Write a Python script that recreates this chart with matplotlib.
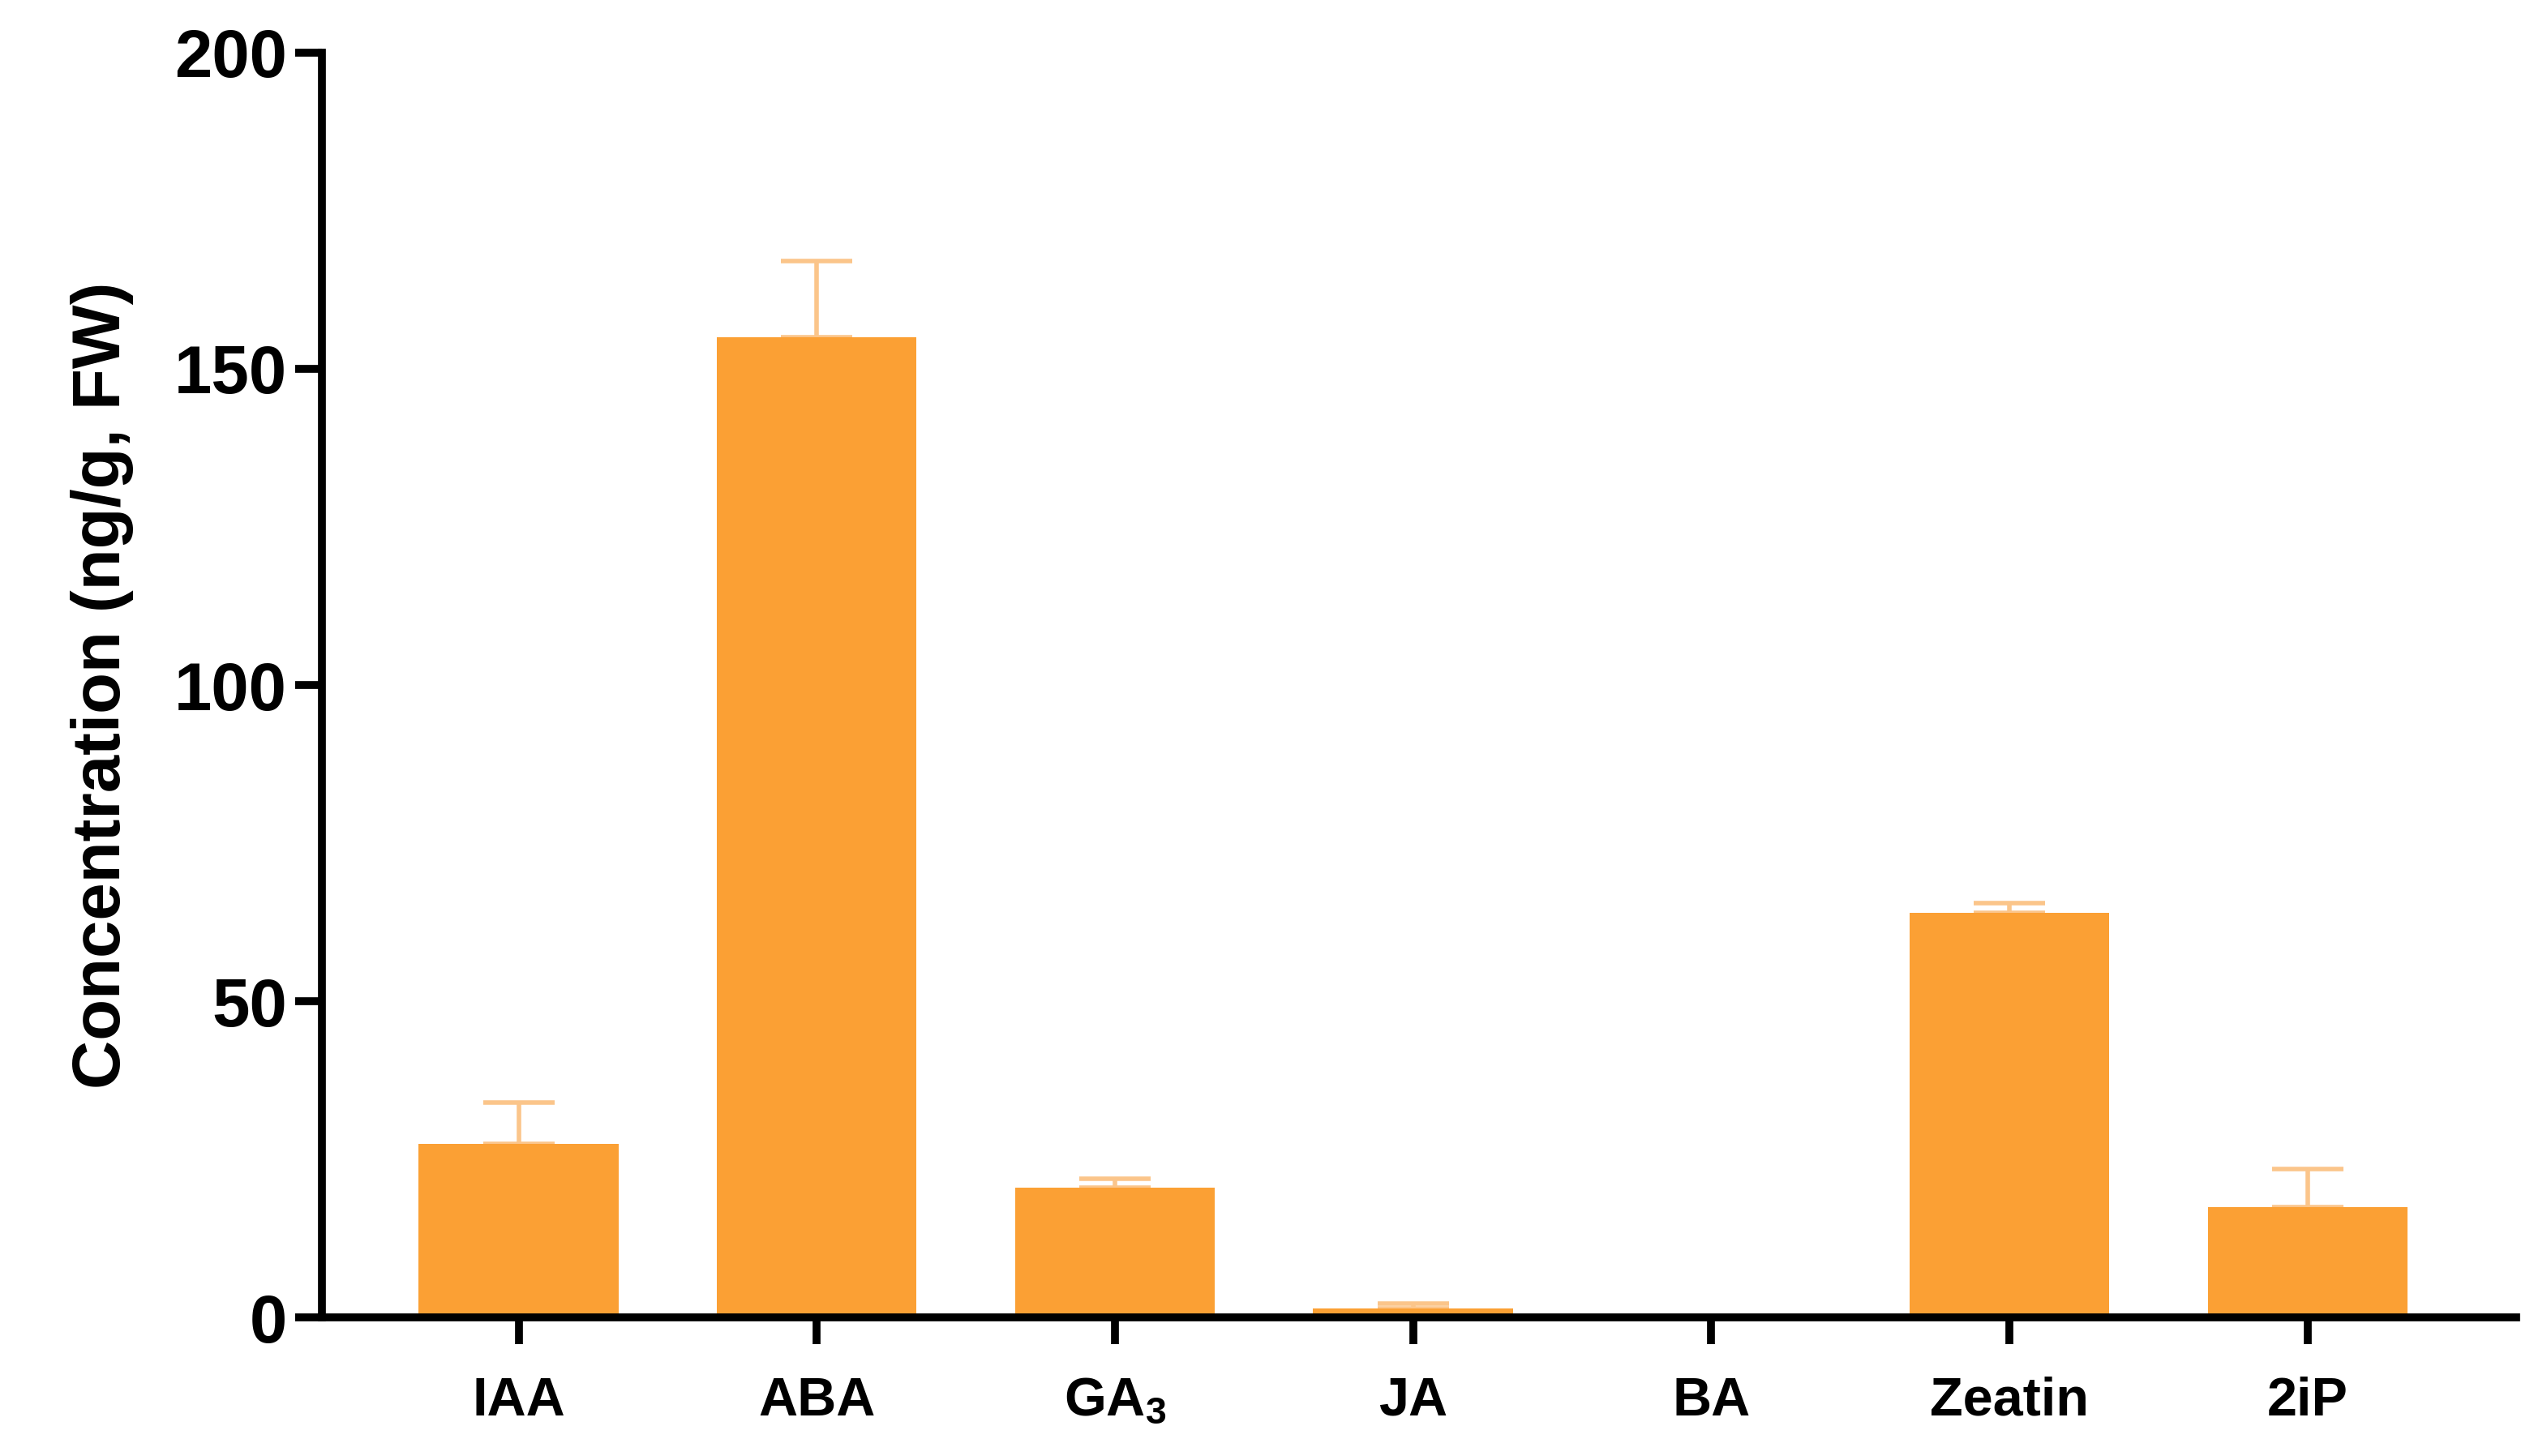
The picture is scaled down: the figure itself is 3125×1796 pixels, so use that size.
import matplotlib
matplotlib.use("Agg")
import matplotlib.pyplot as plt

categories = ["IAA", "ABA", "GA$_3$", "JA", "BA", "Zeatin", "2iP"]
means = [27.5, 155.0, 20.5, 1.5, 0.0, 64.0, 17.5]
errors = [6.5, 12.0, 1.5, 0.7, 0.0, 1.5, 6.0]
yticks = [0, 50, 100, 150, 200]

plt.rcParams['font.family'] = ['Liberation Sans', 'DejaVu Sans']
plt.rcParams['font.weight'] = 'bold'
plt.rcParams['mathtext.fontset'] = 'custom'
plt.rcParams['mathtext.rm'] = 'Liberation Sans:bold'
plt.rcParams['mathtext.it'] = 'Liberation Sans:bold'
plt.rcParams['mathtext.default'] = 'regular'

fig = plt.figure(figsize=(15.625, 8.98), dpi=200)
ax = fig.add_axes([0.127, 0.095, 0.866, 0.869])
x = list(range(len(categories)))
ax.bar(x, means, width=0.67, color="#FBA034", zorder=2)
ax.errorbar(x, means, yerr=[[0]*len(errors), errors], fmt="none",
            ecolor="#FBC58A", elinewidth=2, capsize=16, capthick=2, zorder=1)
ax.set_xlim(-0.66, 6.70)
ax.set_ylim(0, 200)
ax.set_yticks(yticks)
ax.set_xticks(x)
ax.set_xticklabels(categories, fontsize=24, fontweight='bold')
ax.tick_params(axis='y', labelsize=30, width=3.5, length=12)
ax.tick_params(axis='x', width=3.5, length=12, pad=14)
for lab in ax.get_yticklabels():
    lab.set_fontweight('bold')
for s in ['top', 'right']:
    ax.spines[s].set_visible(False)
for s in ['left', 'bottom']:
    ax.spines[s].set_linewidth(3.5)
ax.set_ylabel("Concentration (ng/g, FW)", fontsize=30, fontweight='bold', labelpad=18)
fig.savefig("out.png", dpi=200)
